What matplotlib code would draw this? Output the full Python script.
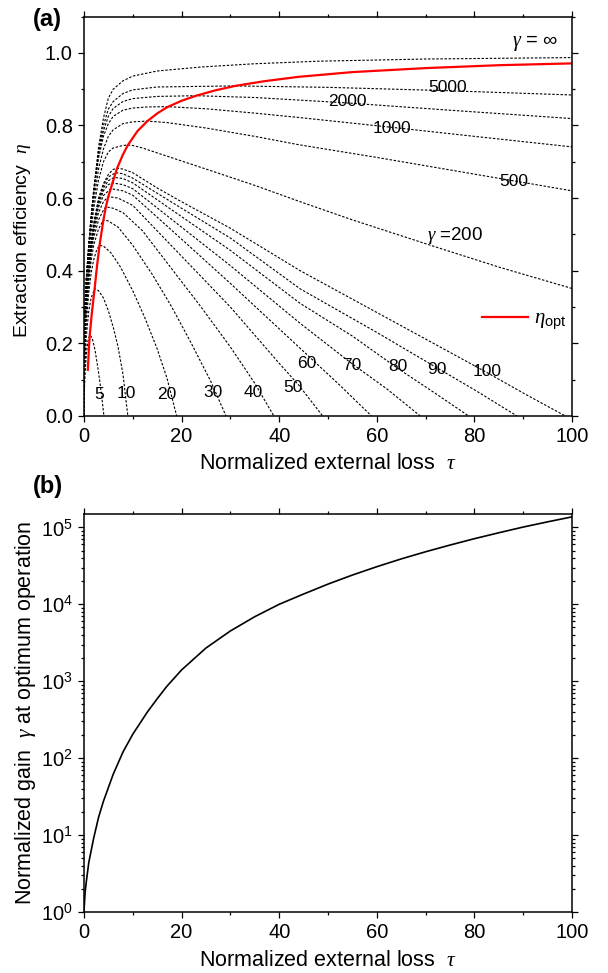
import numpy as np
import matplotlib
matplotlib.use("Agg")
from matplotlib import pyplot as plt
from matplotlib.ticker import MultipleLocator, LogLocator, NullFormatter

plt.rcParams['font.family'] = ['Liberation Sans', 'DejaVu Sans']
plt.rcParams['mathtext.fontset'] = 'custom'
plt.rcParams['mathtext.rm'] = 'Liberation Sans'
plt.rcParams['mathtext.sf'] = 'Liberation Sans'
plt.rcParams['mathtext.it'] = 'Liberation Serif:italic'

# efficiency vs external loss, one curve per normalized gain
tau_g5 = [0, 0.1, 0.25, 0.5, 0.8, 1.2, 1.7, 2.3, 3.0, 3.6, 4.1]
eta_g5 = [0, 0.07, 0.12, 0.17, 0.205, 0.223, 0.215, 0.18, 0.12, 0.06, 0]
tau_g10 = [0, 0.1, 0.25, 0.5, 1.0, 1.5, 2.2, 3.0, 4.0, 5.0, 6.0, 7.0, 8.0, 9.0]
eta_g10 = [0, 0.10, 0.15, 0.22, 0.29, 0.325, 0.351, 0.345, 0.325, 0.29, 0.245, 0.19, 0.115, 0]
tau_g20 = [0, 0.1, 0.25, 0.5, 1.0, 1.5, 2.0, 2.6, 3.2, 4.0, 5.5, 7.5, 10.0, 12.5, 15.0, 17.0, 19.0]
eta_g20 = [0, 0.12, 0.19, 0.26, 0.34, 0.395, 0.43, 0.457, 0.47, 0.468, 0.45, 0.41, 0.345, 0.27,
           0.185, 0.105, 0]
tau_g30 = [0, 0.1, 0.25, 0.5, 1.0, 1.5, 2.0, 3.0, 4.0, 5.0, 7.0, 10.0, 14.0, 18.0, 22.0, 26.0, 29.1]
eta_g30 = [0, 0.13, 0.21, 0.28, 0.37, 0.43, 0.47, 0.515, 0.54, 0.537, 0.52, 0.47, 0.39, 0.30,
           0.20, 0.095, 0]
tau_g40 = [0, 0.1, 0.25, 0.5, 1.0, 1.5, 2.0, 3.0, 4.0, 4.5, 6.0, 8.0, 12.0, 18.0, 24.0, 30.0,
           35.0, 38.9]
eta_g40 = [0, 0.14, 0.22, 0.30, 0.38, 0.45, 0.49, 0.54, 0.567, 0.576, 0.572, 0.56, 0.51, 0.405,
           0.30, 0.19, 0.09, 0]
tau_g50 = [0, 0.1, 0.25, 0.5, 1.0, 1.5, 2.0, 3.0, 4.0, 5.0, 7.0, 10.0, 20.0, 30.0, 40.0, 44.0, 48.9]
eta_g50 = [0, 0.15, 0.23, 0.31, 0.39, 0.46, 0.505, 0.56, 0.59, 0.604, 0.60, 0.58, 0.44, 0.30,
           0.145, 0.085, 0]
tau_g60 = [0, 0.1, 0.25, 0.5, 1.0, 1.5, 2.0, 3.0, 4.0, 5.5, 8.0, 10.0, 20.0, 30.0, 40.0, 45.6,
           52.0, 58.9]
eta_g60 = [0, 0.16, 0.24, 0.32, 0.40, 0.465, 0.513, 0.575, 0.607, 0.626, 0.62, 0.608, 0.487, 0.365,
           0.24, 0.17, 0.09, 0]
tau_g70 = [0, 0.1, 0.25, 0.5, 1.0, 1.5, 2.0, 3.0, 4.0, 5.0, 5.8, 8.0, 10.0, 20.0, 30.0, 44.3,
           54.8, 62.0, 68.9]
eta_g70 = [0, 0.16, 0.25, 0.33, 0.41, 0.47, 0.518, 0.583, 0.62, 0.637, 0.642, 0.637, 0.626, 0.52,
           0.414, 0.255, 0.145, 0.075, 0]
tau_g80 = [0, 0.1, 0.25, 0.5, 1.0, 1.5, 2.0, 3.0, 4.0, 5.0, 6.2, 8.0, 10.0, 20.0, 30.0, 44.3,
           55.0, 64.4, 72.0, 78.8]
eta_g80 = [0, 0.17, 0.26, 0.335, 0.415, 0.475, 0.522, 0.59, 0.628, 0.648, 0.657, 0.654, 0.642,
           0.549, 0.456, 0.31, 0.22, 0.13, 0.062, 0]
tau_g90 = [0, 0.1, 0.25, 0.5, 1.0, 1.5, 2.0, 3.0, 4.0, 5.0, 6.5, 8.0, 10.0, 20.0, 30.0, 44.3,
           60.0, 72.0, 80.0, 88.7]
eta_g90 = [0, 0.18, 0.27, 0.34, 0.42, 0.48, 0.525, 0.595, 0.635, 0.658, 0.67, 0.667, 0.655, 0.572,
           0.49, 0.35, 0.23, 0.135, 0.072, 0]
tau_g100 = [0, 0.1, 0.25, 0.5, 1.0, 1.5, 2.0, 3.0, 4.0, 5.0, 6.0, 6.8, 8.0, 10.0, 15.0, 20.0,
            30.0, 44.3, 60.0, 82.5, 90.0, 98.6]
eta_g100 = [0, 0.18, 0.27, 0.34, 0.42, 0.48, 0.53, 0.60, 0.64, 0.665, 0.679, 0.682, 0.68, 0.67,
            0.628, 0.59, 0.517, 0.40, 0.285, 0.12, 0.063, 0]
tau_g200 = [0, 0.1, 0.25, 0.5, 1.0, 1.5, 2.0, 3.0, 4.0, 5.0, 6.0, 8.0, 9.0, 10.0, 12.0, 16.0,
            25.0, 35.0, 44.3, 55.0, 71.0, 85.0, 100.0]
eta_g200 = [0, 0.19, 0.29, 0.36, 0.44, 0.51, 0.57, 0.65, 0.70, 0.727, 0.738, 0.745, 0.746, 0.745,
            0.738, 0.72, 0.68, 0.635, 0.59, 0.54, 0.47, 0.41, 0.351]
tau_g500 = [0, 0.1, 0.25, 0.5, 1.0, 1.5, 2.0, 3.0, 4.0, 5.0, 6.0, 8.0, 10.0, 13.0, 17.0, 25.0,
            35.0, 44.0, 60.0, 80.0, 100.0]
eta_g500 = [0, 0.20, 0.30, 0.37, 0.46, 0.53, 0.59, 0.68, 0.735, 0.77, 0.788, 0.805, 0.81, 0.812,
            0.808, 0.793, 0.77, 0.747, 0.712, 0.666, 0.62]
tau_g1000 = [0, 0.1, 0.25, 0.5, 1.0, 1.5, 2.0, 3.0, 4.0, 5.0, 6.0, 8.0, 10.0, 13.0, 17.0, 25.0,
             35.0, 44.0, 63.0, 80.0, 100.0]
eta_g1000 = [0, 0.20, 0.30, 0.38, 0.47, 0.55, 0.61, 0.71, 0.77, 0.805, 0.825, 0.842, 0.848, 0.851,
             0.852, 0.846, 0.834, 0.822, 0.795, 0.77, 0.741]
tau_g2000 = [0, 0.1, 0.25, 0.5, 1.0, 1.5, 2.0, 3.0, 4.0, 5.0, 6.0, 8.0, 10.0, 15.0, 23.0, 35.0,
             44.0, 54.0, 75.0, 100.0]
eta_g2000 = [0, 0.20, 0.30, 0.38, 0.47, 0.55, 0.62, 0.72, 0.785, 0.825, 0.847, 0.866, 0.874, 0.88,
             0.882, 0.877, 0.870, 0.862, 0.842, 0.819]
tau_g5000 = [0, 0.1, 0.25, 0.5, 1.0, 1.5, 2.0, 3.0, 4.0, 5.0, 6.0, 8.0, 10.0, 15.0, 31.0, 50.0,
             74.0, 100.0]
eta_g5000 = [0, 0.20, 0.30, 0.38, 0.47, 0.55, 0.62, 0.73, 0.80, 0.845, 0.866, 0.888, 0.898, 0.906,
             0.909, 0.905, 0.896, 0.884]
tau_ginf = [0, 0.1, 0.25, 0.5, 1.0, 1.5, 2.0, 3.0, 4.0, 5.0, 6.0, 8.0, 10.0, 15.0, 24.0, 35.0,
            48.0, 70.0, 100.0]
eta_ginf = [0, 0.20, 0.30, 0.38, 0.47, 0.55, 0.62, 0.74, 0.82, 0.875, 0.90, 0.923, 0.936, 0.95,
            0.961, 0.97, 0.977, 0.983, 0.987]

# locus of the optimum efficiency
tau_opt = [0.8, 1.0, 1.2, 1.6, 2.2, 2.7, 3.2, 4.0, 4.5, 5.0, 5.5, 6.2, 6.8, 8.0, 9.0, 11.0, 13.0,
           15.0, 17.0, 20.0, 23.0, 27.0, 31.0, 37.0, 44.0, 55.0, 70.0, 85.0, 100.0]
eta_opt = [0.127, 0.18, 0.223, 0.28, 0.351, 0.415, 0.47, 0.54, 0.576, 0.604, 0.626, 0.657, 0.682,
           0.72, 0.746, 0.785, 0.812, 0.833, 0.85, 0.868, 0.882, 0.897, 0.909, 0.922, 0.934, 0.947,
           0.958, 0.966, 0.971]

# normalized gain required at the optimum
tau_b = [0, 0.25, 0.5, 1, 2, 3, 4, 6, 8, 10, 13, 15, 17, 20, 25, 30, 35, 40, 45, 50, 55, 60,
         65, 70, 75, 80, 85, 90, 95, 100]
gamma_b = [1, 1.8, 2.5, 4.4, 9.1, 17, 27.5, 61.7, 120, 204, 398, 590, 860, 1400, 2700, 4500, 6900,
           1.0e4, 1.36e4, 1.83e4, 2.4e4, 3.08e4, 3.89e4, 4.82e4, 5.89e4, 7.13e4, 8.51e4, 1.01e5,
           1.18e5, 1.37e5]

curves = [(tau_g5, eta_g5), (tau_g10, eta_g10), (tau_g20, eta_g20), (tau_g30, eta_g30),
          (tau_g40, eta_g40), (tau_g50, eta_g50), (tau_g60, eta_g60), (tau_g70, eta_g70),
          (tau_g80, eta_g80), (tau_g90, eta_g90), (tau_g100, eta_g100), (tau_g200, eta_g200),
          (tau_g500, eta_g500), (tau_g1000, eta_g1000), (tau_g2000, eta_g2000),
          (tau_g5000, eta_g5000), (tau_ginf, eta_ginf)]

curve_labels = ['5', '10', '20', '30', '40', '50', '60', '70', '80', '90', '100',
                r'$\gamma$ =200', '500', '1000', '2000', '5000', r'$\gamma$ = $\infty$']
label_pos = [(3.2, 0.06), (8.6, 0.062), (17.0, 0.058), (26.5, 0.064), (34.7, 0.065),
             (42.9, 0.079), (45.6, 0.145), (54.8, 0.138), (64.4, 0.136), (72.3, 0.127),
             (82.5, 0.122), (76.0, 0.498), (88.0, 0.647), (63.0, 0.793), (54.0, 0.865),
             (74.4, 0.905), (92.5, 1.026)]
label_size = [12.5] * 11 + [13.5, 12.5, 12.5, 12.5, 12.5, 14.5]

fig = plt.figure(figsize=(6.08, 9.73), dpi=100)
ax1 = fig.add_axes([0.138, 0.5725, 0.803, 0.4105])
ax2 = fig.add_axes([0.138, 0.0627, 0.803, 0.409])

dash = (0, (2.2, 1.5))
for t, e in curves:
    ax1.plot(t, e, linestyle=dash, color='black', linewidth=0.8)
ax1.plot(tau_opt, eta_opt, color='red', linewidth=1.6, label=r'$\eta_{\mathsf{opt}}$')

for txt, (x, y), fs in zip(curve_labels, label_pos, label_size):
    ax1.text(x, y, txt, fontsize=fs, ha='center', va='center')

ax1.set_xlim(0, 100)
ax1.set_ylim(0, 1.1)
ax1.xaxis.set_major_locator(MultipleLocator(20))
ax1.xaxis.set_minor_locator(MultipleLocator(10))
ax1.set_yticks([0, 0.2, 0.4, 0.6, 0.8, 1.0])
ax1.yaxis.set_minor_locator(MultipleLocator(0.1))
ax1.set_xlabel(r'Normalized external loss  $\tau$', fontsize=15.5, labelpad=5)
ax1.set_ylabel(r'Extraction efficiency  $\eta$', fontsize=14, labelpad=6)
ax1.yaxis.set_label_coords(-0.105, 0.44)
ax1.legend(loc='center left', bbox_to_anchor=(0.816, 0.239), frameon=False, fontsize=15,
           handlelength=2.2, handletextpad=0.3, borderaxespad=0, borderpad=0)
ax1.text(-0.105, 0.992, '(a)', transform=ax1.transAxes, fontsize=17, fontweight='bold',
         va='center', ha='left')

ax2.semilogy(tau_b, gamma_b, color='black', linewidth=1.2)
ax2.set_xlim(0, 100)
ax2.set_ylim(1, 1.49e5)
ax2.xaxis.set_major_locator(MultipleLocator(20))
ax2.xaxis.set_minor_locator(MultipleLocator(10))
ax2.yaxis.set_major_locator(LogLocator(base=10, numticks=10))
ax2.yaxis.set_minor_locator(LogLocator(base=10, subs=np.arange(2, 10), numticks=20))
ax2.yaxis.set_minor_formatter(NullFormatter())
ax2.set_xlabel(r'Normalized external loss  $\tau$', fontsize=15.5, labelpad=6)
ax2.set_ylabel(r'Normalized gain  $\gamma$ at optimum operation', fontsize=15.5, labelpad=2)
ax2.text(-0.105, 1.068, '(b)', transform=ax2.transAxes, fontsize=17, fontweight='bold',
         va='center', ha='left')

for ax in (ax1, ax2):
    ax.tick_params(which='both', direction='out', top=True, right=True, labelsize=14.5, width=0.9)
    ax.tick_params(which='major', length=4.5)
    ax.tick_params(which='minor', length=2.5)
    for s in ax.spines.values():
        s.set_linewidth(1.1)

fig.savefig('out.png', dpi=100)
